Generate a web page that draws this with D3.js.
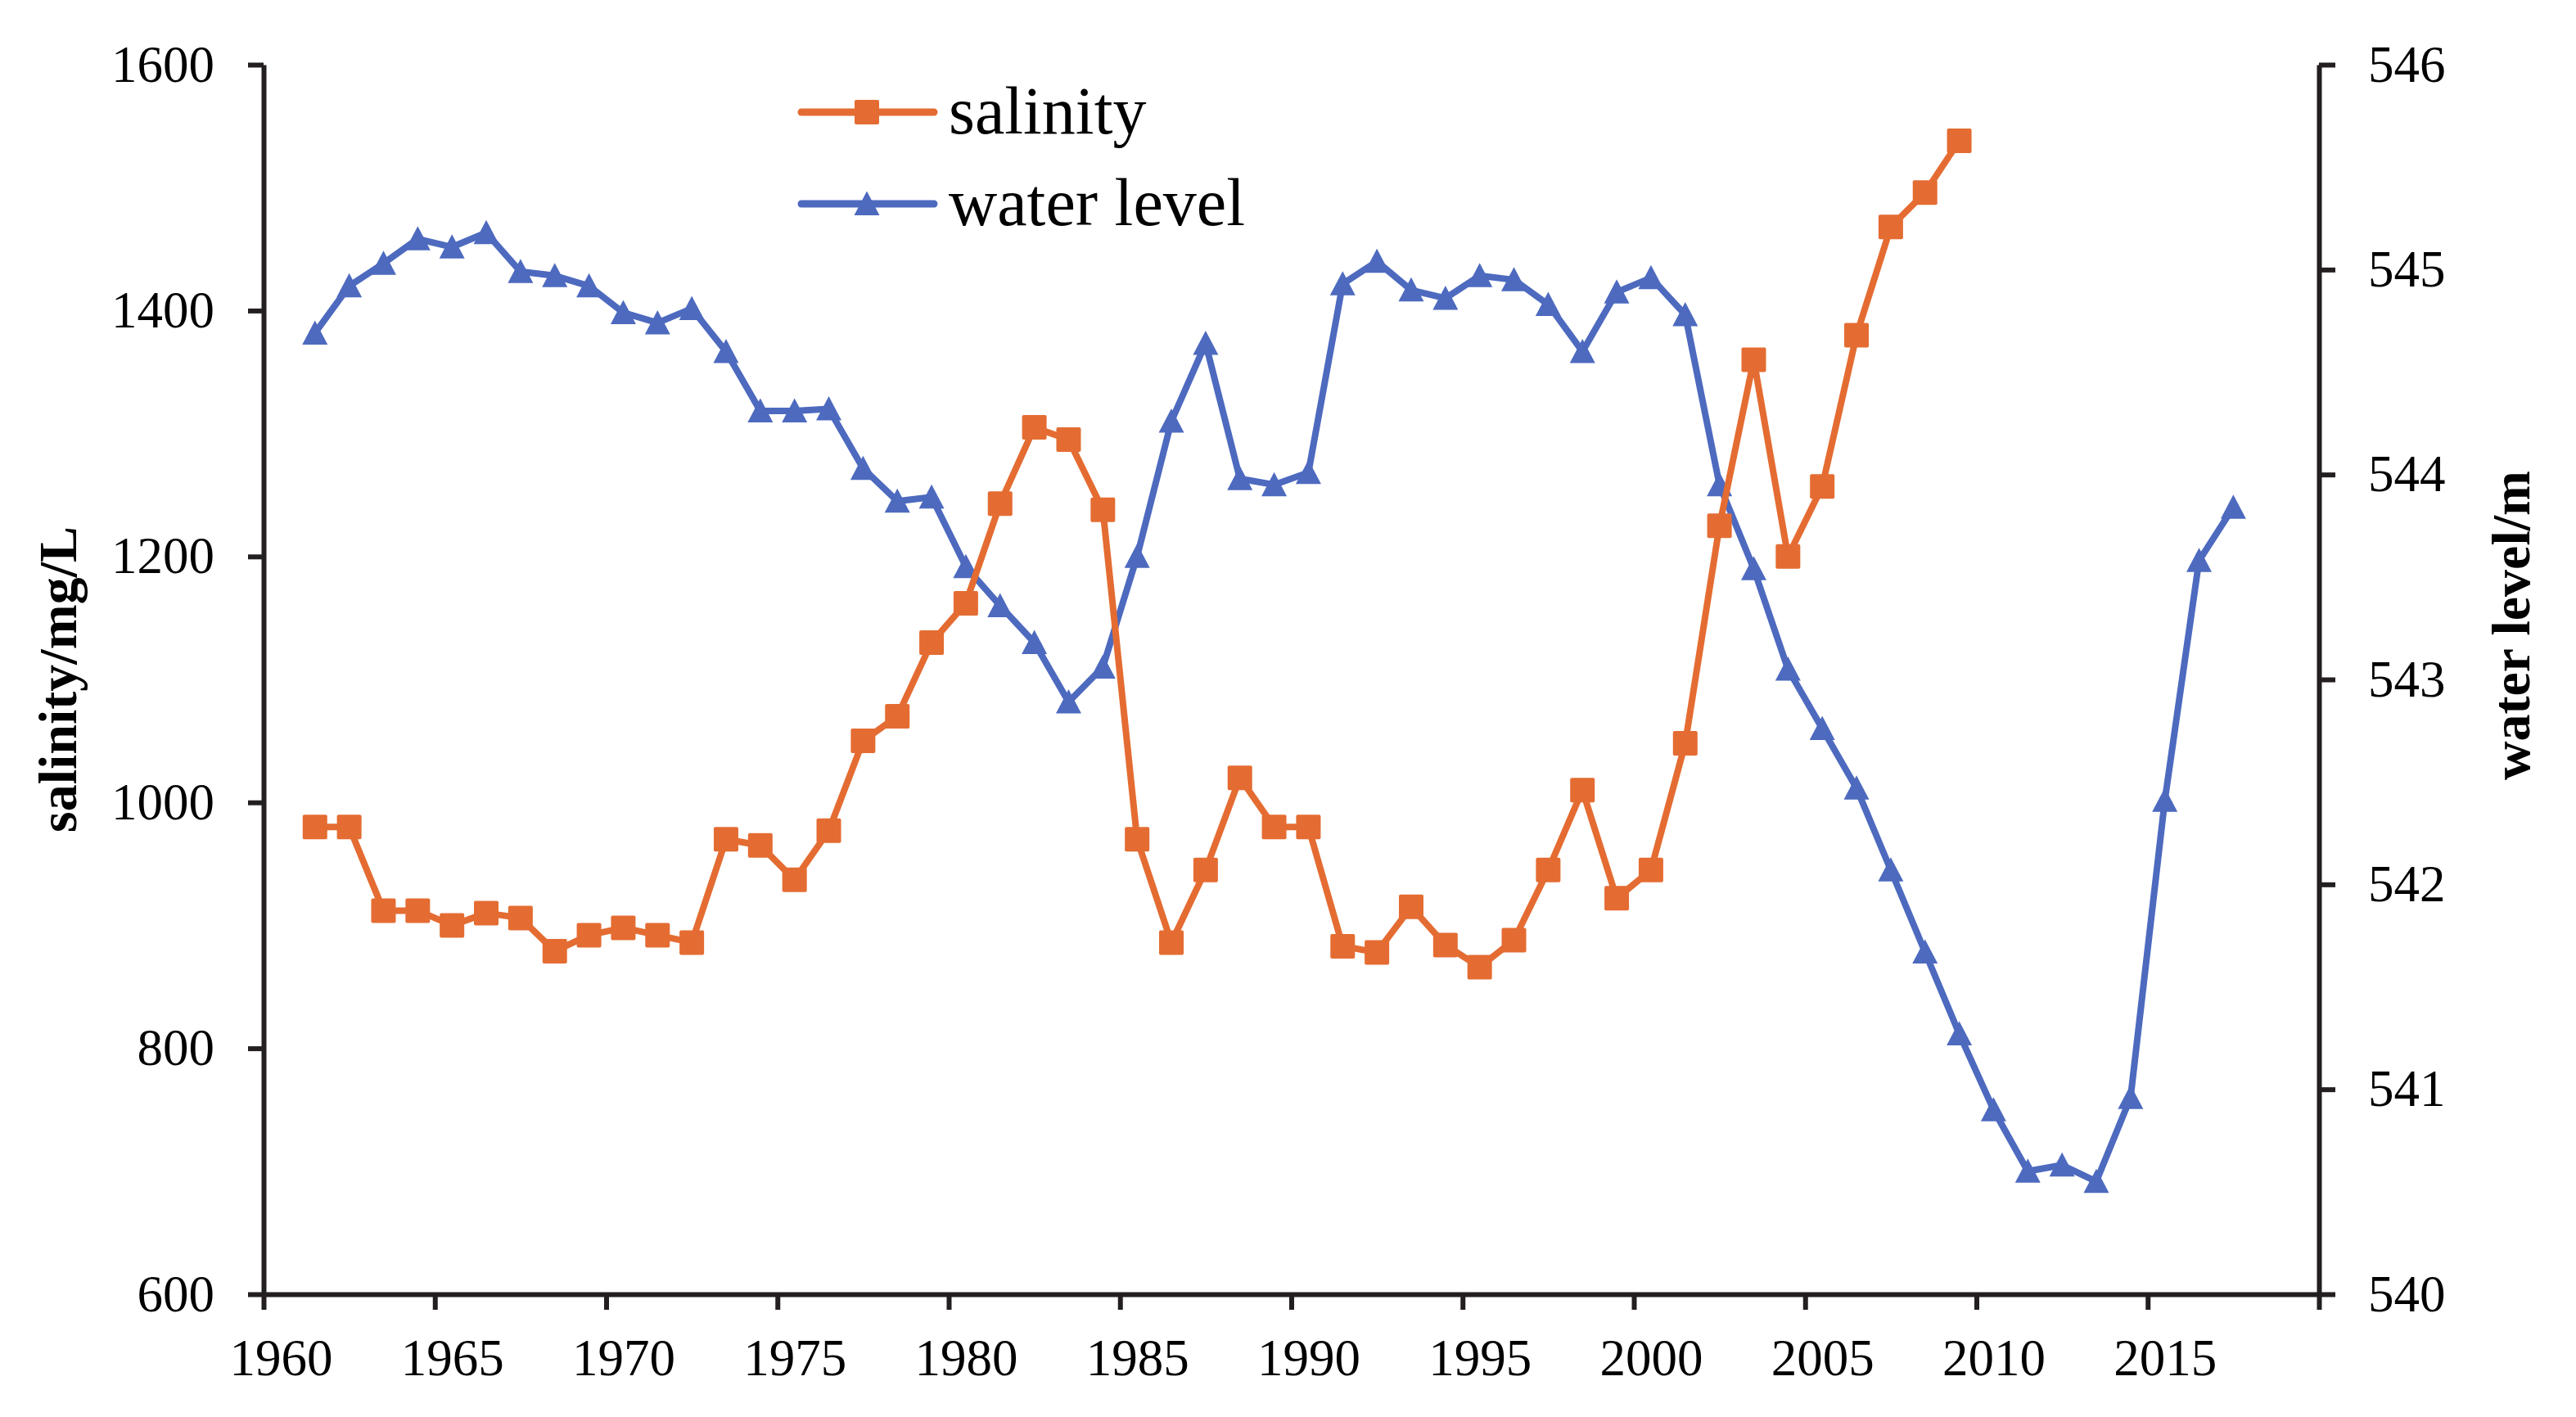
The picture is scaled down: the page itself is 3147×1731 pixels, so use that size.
<!DOCTYPE html>
<html>
<head>
<meta charset="utf-8">
<script src="https://cdn.jsdelivr.net/npm/d3@7"></script>
<style>
  html, body { margin: 0; padding: 0; background: #fff; }
  svg { display: block; }
</style>
</head>
<body>
<svg id="chart"></svg>
<script>
// data (points sit mid-year)
const salinityYears = d3.range(1961, 2010)
const salinity = [
  980, 980, 912, 912, 900, 910, 906, 879, 892, 898,
  892, 886, 970, 965, 937, 977, 1050, 1070, 1130, 1162,
  1243, 1305, 1295, 1238, 970, 886, 945, 1020, 980, 980,
  883, 878, 915, 884, 866, 888, 945, 1010, 922, 945,
  1048, 1225, 1360, 1200, 1257, 1380, 1468, 1496, 1538
]

const levelYears = d3.range(1961, 2018)
const waterLevel = [
  544.69, 544.92, 545.03, 545.15, 545.11, 545.18, 544.99, 544.97, 544.92, 544.79,
  544.74, 544.81, 544.60, 544.31, 544.31, 544.32, 544.03, 543.87, 543.89, 543.55,
  543.36, 543.18, 542.89, 543.06, 543.60, 544.26, 544.64, 543.98, 543.95, 544.01,
  544.93, 545.04, 544.90, 544.86, 544.97, 544.95, 544.83, 544.60, 544.89, 544.96,
  544.78, 543.95, 543.54, 543.05, 542.76, 542.47, 542.07, 541.67, 541.27, 540.90,
  540.60, 540.63, 540.55, 540.96, 542.41, 543.58, 543.84
]

const xTicks = d3.range(1960, 2021, 5)
const leftTicks = [600, 800, 1000, 1200, 1400, 1600]
const rightTicks = [540, 541, 542, 543, 544, 545, 546]

const width = 3147
const height = 1731
const orange = '#E46C32'
const blue = '#4D6ABF'
const ink = '#231f20'
const font = "'Liberation Serif', 'Times New Roman', serif"

const svg = d3.select('#chart').attr('width', width).attr('height', height)
svg.append('rect').attr('width', width).attr('height', height).attr('fill', '#fff')

const x = d3.scaleLinear().domain([1960, 2020]).range([322, 2833])
const yL = d3.scaleLinear().domain([600, 1600]).range([1581, 79])
const yR = d3.scaleLinear().domain([540, 546]).range([1581, 79])

const plain = d3.format('d')

function styleAxis (g) {
  g.select('.domain').attr('stroke', ink).attr('stroke-width', 6)
  g.selectAll('.tick line').attr('stroke', ink).attr('stroke-width', 6)
  g.selectAll('.tick text')
    .attr('fill', '#000')
    .attr('font-family', font)
    .attr('font-size', 63)
}

// left axis
svg.append('g')
  .attr('transform', `translate(${x(1960)},0)`)
  .call(d3.axisLeft(yL).tickValues(leftTicks).tickFormat(plain)
    .tickSize(19).tickSizeOuter(0).tickPadding(41))
  .call(styleAxis)

// right axis
svg.append('g')
  .attr('transform', `translate(${x(2020)},0)`)
  .call(d3.axisRight(yR).tickValues(rightTicks).tickFormat(plain)
    .tickSize(20).tickSizeOuter(0).tickPadding(40))
  .call(styleAxis)

// bottom axis
svg.append('g')
  .attr('transform', `translate(0,${yL(600)})`)
  .call(d3.axisBottom(x).tickValues(xTicks).tickSize(19).tickSizeOuter(0)
    .tickFormat(d => (d === 2020 ? '' : plain(d))))
  .call(styleAxis)
  .call(g => g.selectAll('.tick text').attr('y', 99).attr('dy', 0).attr('dx', 21))

// axis titles
svg.append('text')
  .attr('transform', `translate(93,${(yL(600) + yL(1600)) / 2}) rotate(-90)`)
  .attr('text-anchor', 'middle')
  .attr('font-family', font)
  .attr('font-weight', 'bold')
  .attr('font-size', 66)
  .text('salinity/mg/L')

svg.append('text')
  .attr('transform', 'translate(3090,764) rotate(-90)')
  .attr('text-anchor', 'middle')
  .attr('font-family', font)
  .attr('font-weight', 'bold')
  .attr('font-size', 66)
  .text('water level/m')

const salData = salinityYears.map((yr, i) => ({ yr, v: salinity[i] }))
const lvlData = levelYears.map((yr, i) => ({ yr, v: waterLevel[i] }))

const triangle = 'M0,-15.5L15.5,14L-15.5,14Z'

// water level series
svg.append('path')
  .datum(lvlData)
  .attr('fill', 'none')
  .attr('stroke', blue)
  .attr('stroke-width', 8)
  .attr('stroke-linejoin', 'round')
  .attr('d', d3.line().x(d => x(d.yr + 0.5)).y(d => yR(d.v)))

svg.append('g')
  .selectAll('path')
  .data(lvlData)
  .join('path')
  .attr('d', triangle)
  .attr('fill', blue)
  .attr('transform', d => `translate(${x(d.yr + 0.5)},${yR(d.v)})`)

// salinity series
svg.append('path')
  .datum(salData)
  .attr('fill', 'none')
  .attr('stroke', orange)
  .attr('stroke-width', 8)
  .attr('stroke-linejoin', 'round')
  .attr('d', d3.line().x(d => x(d.yr + 0.5)).y(d => yL(d.v)))

svg.append('g')
  .selectAll('rect')
  .data(salData)
  .join('rect')
  .attr('x', d => x(d.yr + 0.5) - 15)
  .attr('y', d => yL(d.v) - 15)
  .attr('width', 30)
  .attr('height', 30)
  .attr('rx', 2)
  .attr('fill', orange)

// legend
const legendItems = [
  { name: 'salinity', color: orange, marker: 'square', y: 137 },
  { name: 'water level', color: blue, marker: 'triangle', y: 249 }
]

const legend = svg.append('g')
legendItems.forEach(item => {
  const g = legend.append('g').attr('transform', `translate(0,${item.y})`)
  g.append('line')
    .attr('x1', 979).attr('x2', 1141)
    .attr('stroke', item.color)
    .attr('stroke-width', 9)
    .attr('stroke-linecap', 'round')
  if (item.marker === 'square') {
    g.append('rect')
      .attr('x', 1044).attr('y', -15)
      .attr('width', 30).attr('height', 30)
      .attr('rx', 2)
      .attr('fill', item.color)
  } else {
    g.append('path')
      .attr('d', triangle)
      .attr('transform', 'translate(1059,0)')
      .attr('fill', item.color)
  }
  g.append('text')
    .attr('x', 1159)
    .attr('y', 26)
    .attr('font-family', font)
    .attr('font-size', 82)
    .text(item.name)
})
</script>
</body>
</html>
